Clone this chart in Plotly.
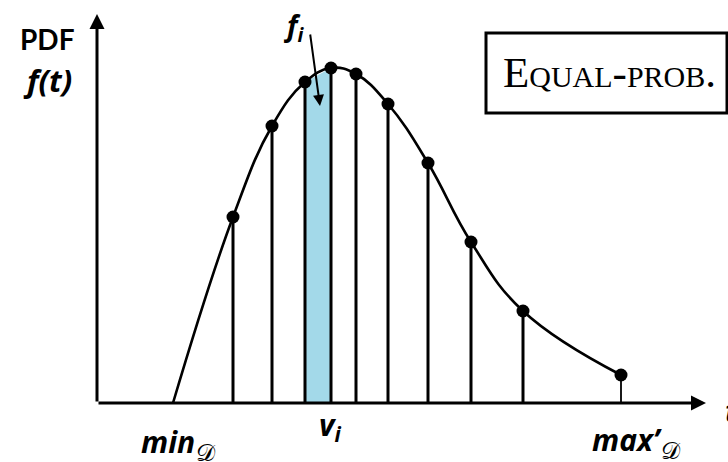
import plotly.graph_objects as go

# ---- data (t in arbitrary units, f(t) in arbitrary density units) ----
t_min = 7.6
t_points = [13.6, 17.5, 20.8, 23.4, 25.9, 29.1, 33.1, 37.4, 42.6, 52.4]
f_points = [18.6, 27.7, 32.1, 33.5, 32.9, 29.9, 24.0, 16.1, 9.2, 2.8]
shaded_index = 2          # interval [t_points[2], t_points[3]] is shaded (f_i)
t_axis_end = 60.9
f_axis_end = 38.9

labels = {"pdf": "PDF", "ft": "f(t)", "fi": "f", "vi": "v", "min": "min", "max": "max\u2019",
          "dom": "\U0001D49F", "box": "Equal-prob."}

W, H = 728, 462
x_range = [-9.7, 63.1]
y_range = [-5.9, 40.3]


def px(x):
    return x / W


def py(y):
    return 1 - y / H


fig = go.Figure()

# shaded interval
i = shaded_index
fig.add_trace(go.Scatter(
    x=[t_points[i], t_points[i], t_points[i + 1], t_points[i + 1]],
    y=[0, f_points[i], f_points[i + 1], 0],
    fill="toself", fillcolor="#a3d9e9", line=dict(width=0), mode="lines",
    hoverinfo="skip", showlegend=False))

# vertical lines
vx, vy = [], []
for t, f in zip(t_points[:-1], f_points[:-1]):
    vx += [t, t, None]
    vy += [0, f, None]
fig.add_trace(go.Scatter(x=vx, y=vy, mode="lines", line=dict(color="black", width=3),
                         hoverinfo="skip", showlegend=False))
fig.add_trace(go.Scatter(x=[t_points[-1], t_points[-1]], y=[0, f_points[-1]], mode="lines",
                         line=dict(color="black", width=1.8), hoverinfo="skip", showlegend=False))

# curve
fig.add_trace(go.Scatter(x=[t_min] + t_points, y=[0] + f_points, mode="lines",
                         line=dict(color="black", width=2.6, shape="spline", smoothing=1.2),
                         hoverinfo="skip", showlegend=False))
# dots
fig.add_trace(go.Scatter(x=t_points, y=f_points, mode="markers",
                         marker=dict(color="black", size=13), hoverinfo="skip", showlegend=False))

ann = []
# axes arrows
ann.append(dict(x=t_axis_end, y=0, ax=0, ay=0, xref="x", yref="y", axref="x", ayref="y",
                showarrow=True, arrowhead=2, arrowsize=1, arrowwidth=3, arrowcolor="black", text=""))
ann.append(dict(x=0, y=f_axis_end, ax=0, ay=0, xref="x", yref="y", axref="x", ayref="y",
                showarrow=True, arrowhead=2, arrowsize=1, arrowwidth=3, arrowcolor="black", text=""))
# f_i arrow
ann.append(dict(x=22.3, y=29.7, ax=21.3, ay=37.0, xref="x", yref="y", axref="x", ayref="y",
                showarrow=True, arrowhead=2, arrowsize=1.1, arrowwidth=2, arrowcolor="black", text=""))

sans = "Lato"
ital = "Open Sans"


def label(x, y, text, size, xref="paper", xanchor="center", family=ital, **kw):
    ann.append(dict(x=x, y=y, xref=xref, yref="paper", showarrow=False, text=text,
                    xanchor=xanchor, yanchor="middle",
                    font=dict(family=family, size=size, color="black", **kw)))


label(px(47), py(39), "<b>" + labels["pdf"] + "</b>", 28, family=sans)
label(px(47), py(80), "<b><i>" + labels["ft"] + "</i></b>", 31)
label(px(294), py(27), "<b><i>" + labels["fi"] + "</i></b><sub><b><i>i</i></b></sub>", 28)
label((t_points[i] + t_points[i + 1]) / 2 + 1.2, py(426),
      "<b><i>" + labels["vi"] + "</i></b><sub><b><i>i</i></b></sub>", 30, xref="x")
label(t_min - 0.5, py(441), "<b><i>" + labels["min"] + "</i></b>", 30, xref="x")
label(t_min + 3.3, py(451), labels["dom"], 24, xref="x")
label(t_points[-1] + 0.6, py(439), "<b><i>" + labels["max"] + "</i></b>", 30, xref="x")
label(t_points[-1] + 5.0, py(449), labels["dom"], 24, xref="x")
label(px(723), py(410), "<b><i>t</i></b>", 30, xanchor="left")
# method box
label(px(609), py(72), labels["box"], 43, family="Liberation Serif", variant="small-caps")

fig.update_layout(
    width=W, height=H, autosize=False, margin=dict(l=0, r=0, t=0, b=0),
    paper_bgcolor="white", plot_bgcolor="white",
    xaxis=dict(range=x_range, visible=False, fixedrange=True),
    yaxis=dict(range=y_range, visible=False, fixedrange=True),
    annotations=ann,
    shapes=[dict(type="rect", xref="paper", yref="paper", x0=px(486), x1=px(727),
                 y0=py(113), y1=py(33), line=dict(color="black", width=3))],
    showlegend=False,
)

fig.write_html("out.html", config={"displayModeBar": False},
               post_script="document.body.style.margin='0px';document.body.style.overflow='hidden';")
